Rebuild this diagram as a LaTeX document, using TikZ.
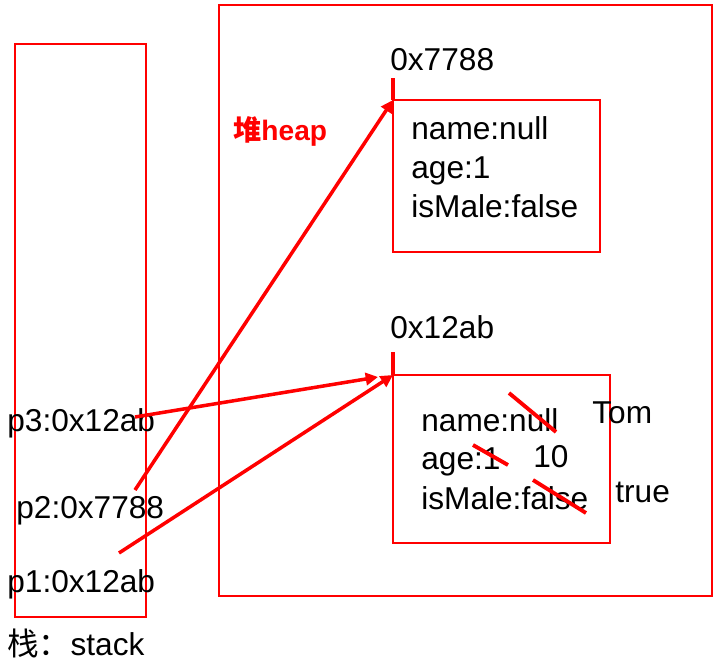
\documentclass[tikz,border=0pt]{standalone}
\usepackage{fontspec}
\setmainfont{Liberation Sans}
\newfontfamily\cjk{Noto Sans CJK SC}
\usetikzlibrary{arrows.meta, positioning}

\begin{document}
\begin{tikzpicture}[x=0.02cm, y=-0.02cm,
      box/.style={draw=red, line width=0.8pt},
      txt/.style={anchor=base west, inner sep=0pt,
                  font=\fontsize{18}{21}\selectfont},
      ptr/.style={draw=red, line width=2pt,
                  -{Triangle[length=7pt, width=7pt]}},
      strike/.style={draw=red, line width=2.2pt},
    ]
      \useasboundingbox (0,0) rectangle (714,663);
      % stack and heap areas
      \draw[box] (15,44) rectangle (146,617);
      \draw[box] (219,5) rectangle (712,596);
      \node[txt, text=red, font=\fontsize{16}{19}\selectfont\bfseries]
            (heap) at (233,140) {{\cjk 堆}heap};
      \node[txt] (stk) at (7,655) {{\cjk 栈：}stack};

      % object at 0x7788
      \coordinate (obj1) at (393,100);
      \draw[box] (obj1) rectangle (600,252);
      \draw[strike] (obj1) -- ++(0,-22);
      \node[txt] (a1) at (390,70) {0x7788};
      \node[txt] (n1) at (411,139) {name:null};
      \node[txt] (g1) at (411,178) {age:1};
      \node[txt] (m1) at (411,217) {isMale:false};

      % object at 0x12ab
      \coordinate (obj2) at (393,375);
      \draw[box] (obj2) rectangle (610,543);
      \draw[strike] (obj2) -- ++(0,-23);
      \node[txt] (a2) at (390,338) {0x12ab};
      \node[txt] (n2) at (421,431) {name:null};
      \node[txt] (g2) at (421,469) {age:1};
      \node[txt] (m2) at (421,509) {isMale:false};
      \node[txt] (tom) at (592,423) {Tom};
      \node[txt] (ten) at (533,467) {10};
      \node[txt] (tru) at (615,502) {true};
      \draw[strike] (509,393) -- (556,432);
      \draw[strike] (473,445) -- (508,465);
      \draw[strike] (533,480) -- (586,513);

      % references on the stack
      \node[txt] (p3) at (7,431) {p3:0x12ab};
      \node[txt] (p2) at (16,518) {p2:0x7788};
      \node[txt] (p1) at (7,592) {p1:0x12ab};
      \coordinate (p3s) at (135,417);
      \coordinate (p2s) at (135,490);
      \coordinate (p1s) at (119,553);
      \coordinate (t3) at (378,377);

      \draw[ptr] (p3s) -- (t3);
      \draw[ptr] (p2s) -- (obj1);
      \draw[ptr] (p1s) -- (obj2);
    \end{tikzpicture}
\end{document}
